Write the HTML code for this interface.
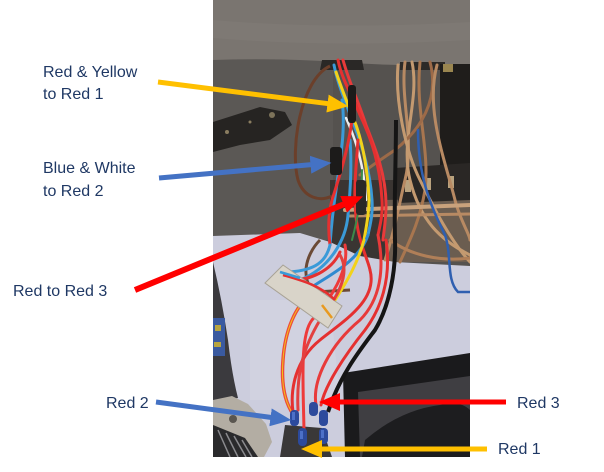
<!DOCTYPE html>
<html><head><meta charset="utf-8"><style>
html,body{margin:0;padding:0;background:#fff;width:604px;height:472px;overflow:hidden}
svg{display:block}
text{font-family:"Liberation Sans",sans-serif;font-size:16px;fill:#1f3864}
</style></head><body>
<svg width="604" height="472" viewBox="0 0 604 472" xmlns="http://www.w3.org/2000/svg">
<defs>
<clipPath id="ph"><rect x="213" y="0" width="257" height="457"/></clipPath>
<marker id="hy" markerUnits="userSpaceOnUse" markerWidth="22" markerHeight="20" refX="1" refY="9" orient="auto"><path d="M0,0 L21,9 L0,18 Z" fill="#ffc000"/></marker>
<marker id="hb" markerUnits="userSpaceOnUse" markerWidth="22" markerHeight="20" refX="1" refY="9" orient="auto"><path d="M0,0 L21,9 L0,18 Z" fill="#4472c4"/></marker>
<marker id="hr" markerUnits="userSpaceOnUse" markerWidth="22" markerHeight="20" refX="1" refY="9" orient="auto"><path d="M0,0 L21,9 L0,18 Z" fill="#ff0000"/></marker>
</defs>

<g clip-path="url(#ph)">
  <!-- dark carpet -->
  <rect x="213" y="0" width="257" height="457" fill="#55524f"/>
  <rect x="213" y="60" width="120" height="180" fill="#5b5855"/>
  <!-- top carpet -->
  <path d="M213,0 H470 V64 Q400,67 340,62 Q280,58 213,60 Z" fill="#7a7570"/>
  <path d="M213,20 Q330,30 470,22 L470,40 Q330,48 213,38 Z" fill="#807b76" opacity="0.6"/>
  <!-- openings -->
  <path d="M322,60 L362,60 L364,70 L320,70 Z" fill="#2a2826"/>
  <path d="M400,62 L445,62 L445,70 L400,70 Z" fill="#2d2a27"/>
  <!-- black tape on left -->
  <path d="M213,122 L260,107 L285,112 L292,125 L270,140 L240,145 L213,152 Z" fill="#262422"/>
  <circle cx="227" cy="132" r="2" fill="#8a7d60"/><circle cx="250" cy="122" r="1.5" fill="#8a7d60"/><circle cx="272" cy="115" r="3" fill="#7d735a"/>
  <!-- right side device -->
  <rect x="440" y="64" width="30" height="106" fill="#1f1d1b"/>
  <rect x="443" y="64" width="10" height="8" fill="#9a8650"/>
  <!-- middle dark -->
  <rect x="330" y="180" width="70" height="85" fill="#3a3532"/>
  <!-- mesh area -->
  <path d="M385,200 L470,198 L470,262 L385,262 Z" fill="#6b5d50"/>
  <!-- perforated box -->
  <path d="M395,168 L470,163 L470,200 L398,203 Z" fill="#2a2725"/>
  <rect x="405" y="180" width="6" height="12" fill="#b9a27e"/>
  <rect x="425" y="178" width="6" height="12" fill="#b9a27e"/>
  <rect x="448" y="176" width="6" height="12" fill="#b9a27e"/>
  <!-- lavender area -->
  <path d="M213,236 L300,233 L330,242 L360,256 L395,262 L470,266 L470,457 L213,457 Z" fill="#cccddd"/>
  <path d="M250,300 L330,300 L340,400 L250,400 Z" fill="#d4d5e3" opacity="0.6"/>
  <!-- left dark strip -->
  <path d="M213,262 Q222,300 228,340 Q232,375 238,398 L213,402 Z" fill="#3b3a3e"/>
  <rect x="213" y="318" width="12" height="38" fill="#3a5aa0"/>
  <rect x="215" y="325" width="6" height="6" fill="#b8a540"/>
  <rect x="214" y="342" width="7" height="5" fill="#b8a540"/>
  <!-- bracket bottom left -->
  <path d="M213,400 L232,396 L248,404 L266,424 L272,442 L264,457 L213,457 Z" fill="#b3ada3"/>
  <path d="M213,425 L245,438 L258,457 L213,457 Z" fill="#2a2a2c"/>
  <path d="M218,430 L230,457 M226,433 L238,457 M234,436 L246,457 M242,440 L252,457" stroke="#8a8a8e" stroke-width="1.5"/>
  <circle cx="233" cy="419" r="4" fill="#5a5650"/>
  <!-- black box bottom right -->
  <path d="M343,373 L470,353 L470,457 L345,457 Z" fill="#1a1a1c"/>
  <path d="M358,392 L470,376 L470,457 L360,457 Z" fill="#3f3e42"/>
  <path d="M365,440 Q400,410 440,405 Q460,400 470,410 L470,457 L362,457 Z" fill="#1d1d1f"/>
  <!-- terminal block -->
  <path d="M285,425 L322,428 L332,457 L280,457 Z" fill="#3a3838"/>

  <!-- brown loop -->
  <path d="M330,66 C300,80 290,150 298,180 C304,198 320,202 332,196" fill="none" stroke="#6b3f2a" stroke-width="3"/>
  <path d="M320,240 C305,255 300,280 315,292 L350,290" fill="none" stroke="#6b4a35" stroke-width="3"/>

  <!-- copper speaker wires -->
  <g fill="none" stroke-width="3" stroke-linecap="round">
    <path d="M405,62 C400,100 415,140 405,180 C400,200 395,230 385,260" stroke="#b88a63"/>
    <path d="M412,62 C420,100 400,140 410,180 C420,220 440,240 470,255" stroke="#c49a70"/>
    <path d="M420,62 C415,110 430,150 425,190 C420,220 410,240 400,262" stroke="#a8764f"/>
    <path d="M430,62 C440,100 420,130 395,150 C380,160 365,170 360,175" stroke="#9c6a48"/>
    <path d="M437,65 C425,110 445,160 455,200 C460,220 470,235 470,240" stroke="#b88a63"/>
    <path d="M398,65 C395,100 405,150 420,180 C435,210 450,240 470,262" stroke="#c49a70"/>
    <path d="M390,240 C410,255 440,262 470,258" stroke="#b07f58"/>
    <path d="M345,210 L470,205" stroke="#c9a27c" stroke-width="4"/>
    <path d="M350,216 L470,214" stroke="#b88a63"/>
    <path d="M418,130 C418,175 430,205 445,235 C452,255 446,280 458,292 L470,292" stroke="#2f5fb0" stroke-width="2.5"/>
  </g>

  <!-- black wire -->
  <path d="M396,120 C396,160 394,200 395,240 C396,270 390,305 375,330 C360,350 340,375 328,412" fill="none" stroke="#151515" stroke-width="4"/>

  <!-- bundle wires -->
  <g fill="none" stroke-width="3" stroke-linecap="round">
    <path d="M343,60 C350,85 358,100 366,125 C376,150 386,175 386,205 C386,220 384,230 383,240" stroke="#e83a3a"/>
    <path d="M338,60 C342,80 352,95 360,115 C372,140 380,165 382,200 C383,215 380,225 378,235" stroke="#e53030"/>
    <path d="M334,65 C338,85 345,100 352,120 C362,145 370,170 372,200 C373,215 370,225 368,235" stroke="#3a9ad8"/>
    <path d="M336,72 C342,90 348,105 356,125 C364,148 368,175 369,200 C369,215 366,228 364,240" stroke="#f2d21a"/>
    <path d="M346,118 C356,140 364,165 366,200" stroke="#eeeeee" stroke-width="2.5"/>
    <path d="M342,100 C346,130 340,160 336,190 C333,210 331,230 330,245" stroke="#3a9ad8"/>
    <path d="M350,140 C352,165 350,195 348,215" stroke="#3a9ad8"/>
    <path d="M352,120 C348,150 340,175 332,200 C328,215 328,230 330,245" stroke="#e53030"/>
    <path d="M358,140 C356,170 352,200 358,230 C362,250 368,260 370,270" stroke="#e53030"/>
    <path d="M362,170 C362,200 356,225 352,240" stroke="#3a8a4a" stroke-width="2"/>
    <!-- to connector -->
    <path d="M330,245 C326,262 315,270 290,272" stroke="#3a9ad8"/>
    <path d="M348,215 C346,240 330,268 300,280" stroke="#3a9ad8"/>
    <path d="M368,235 C360,260 330,275 315,285" stroke="#2f8ad0"/>
    <path d="M285,280 C310,282 332,270 340,252" stroke="#e53030"/>
    <path d="M364,240 C358,262 348,280 335,300" stroke="#f2d21a"/>
    <!-- down to terminals -->
    <path d="M345,245 C350,270 330,300 312,320 C300,335 303,380 304,430" stroke="#ee3a3a"/>
    <path d="M310,296 C296,305 285,330 283,360 C281,385 285,405 296,418" stroke="#ee4a3a" stroke-width="3.5"/>
    <path d="M310,296 C296,305 285,330 283,360 C281,385 285,405 296,418" stroke="#f2c21a" stroke-width="1"/>
    <path d="M370,270 C378,300 345,320 320,340 C295,360 290,390 293,412" stroke="#e53030"/>
    <path d="M378,235 C385,270 380,300 360,320 C330,345 312,380 316,405" stroke="#e83a3a"/>
    <path d="M386,240 C392,280 380,310 365,330 C345,355 325,385 321,405" stroke="#e53030"/>
    <path d="M340,255 C352,275 335,300 320,320 C305,345 296,370 298,410" stroke="#e24040"/>
  </g>
  <!-- heat shrink -->
  <rect x="348" y="85" width="8" height="38" rx="3" fill="#1c1b1a"/>
  <rect x="330" y="147" width="12" height="28" rx="3" fill="#1c1b1a"/>
  <rect x="356" y="180" width="10" height="35" rx="3" fill="#2a2826"/>
  <!-- white connector -->
  <path d="M265,283 L283,265 L342,306 L328,328 Z" fill="#d9d4c9" stroke="#a8a296" stroke-width="1"/>
  <path d="M283,275 C300,280 320,285 335,300" fill="none" stroke="#e53030" stroke-width="2.5"/>
  <path d="M280,272 L300,278" stroke="#3a9ad8" stroke-width="2.5"/>
  <path d="M322,305 L332,318" stroke="#e89a20" stroke-width="2.5"/>
  <!-- blue terminals -->
  <g fill="#2c4a9c">
    <rect x="290" y="410" width="9" height="16" rx="4"/>
    <rect x="309" y="402" width="9" height="14" rx="4"/>
    <rect x="319" y="410" width="9" height="16" rx="4"/>
    <rect x="298" y="428" width="9" height="18" rx="4"/>
    <rect x="319" y="428" width="9" height="16" rx="4"/>
  </g>
  <g fill="#4c70c8">
    <rect x="292" y="412" width="3" height="8"/>
    <rect x="300" y="431" width="3" height="8"/>
    <rect x="321" y="430" width="3" height="8"/>
  </g>
</g>

<!-- arrows -->
<g stroke-width="5" fill="none">
  <line x1="158" y1="82" x2="328.5" y2="103.7" stroke="#ffc000" marker-end="url(#hy)"/>
  <line x1="159" y1="178" x2="311.5" y2="164.6" stroke="#4472c4" marker-end="url(#hb)"/>
  <line x1="135" y1="290" x2="344.5" y2="204" stroke="#ff0000" stroke-width="6" marker-end="url(#hr)"/>
  <line x1="156" y1="402" x2="271.5" y2="417.5" stroke="#4472c4" marker-end="url(#hb)"/>
  <line x1="506" y1="402" x2="339" y2="402" stroke="#ff0000" marker-end="url(#hr)"/>
  <line x1="487" y1="449" x2="321" y2="449" stroke="#ffc000" marker-end="url(#hy)"/>
</g>

<!-- labels -->
<text x="43" y="77">Red &amp; Yellow</text>
<text x="43" y="99">to Red 1</text>
<text x="43" y="173">Blue &amp; White</text>
<text x="43" y="196">to Red 2</text>
<text x="13" y="296">Red to Red 3</text>
<text x="106" y="408">Red 2</text>
<text x="517" y="408">Red 3</text>
<text x="498" y="454">Red 1</text>
</svg>
</body></html>
